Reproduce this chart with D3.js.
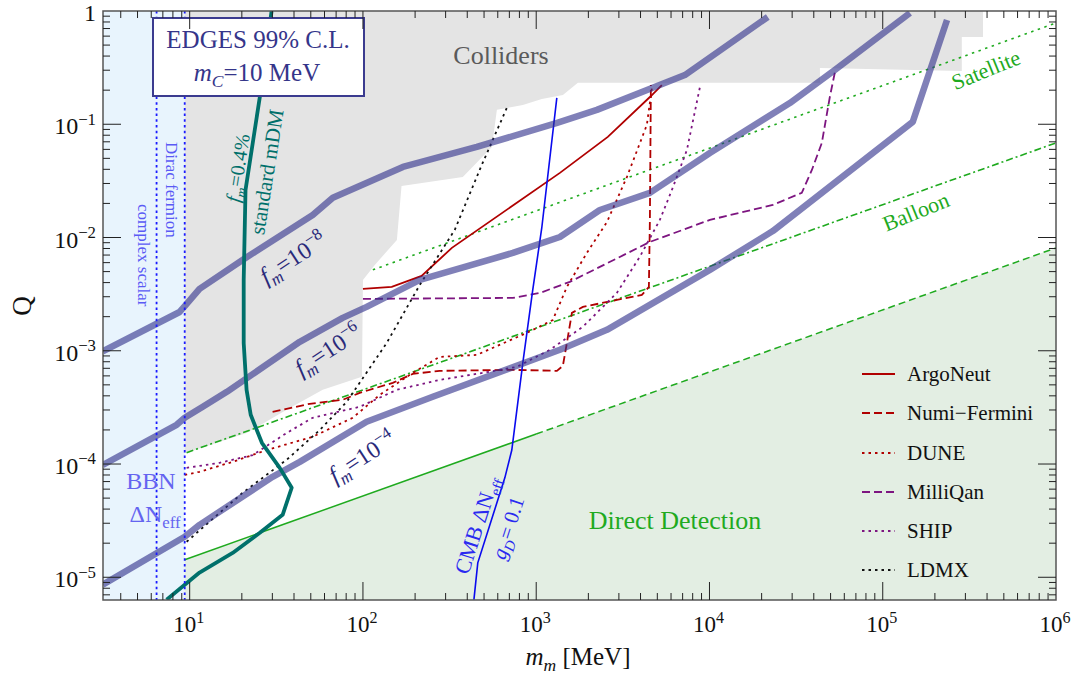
<!DOCTYPE html>
<html lang="en"><head>
<meta charset="UTF-8">
<title>Millicharged DM constraints</title>
<script src="https://d3js.org/d3.v7.min.js"></script>
<style>
  body { margin: 0; background: #fff; }
  text { font-family: "Liberation Serif", "DejaVu Serif", serif; }
</style>
</head>
<body>
<svg id="vis" width="1075" height="681"></svg>
<script>
// ---- data (m in MeV, Q) ----
var xDomain = [3.16, 1e6];
var yDomain = [6.3e-6, 1];
var xTickExp = [1, 2, 3, 4, 5, 6];
var yTickExp = [0, -1, -2, -3, -4, -5];

var bbnEdge = 9.36;
var dottedMasses = [6.44, 9.36];

var colliders = [[9.36,1],[379000,1],[379000,0.589],[286000,0.589],[286000,0.295],[43400,0.314],
  [43400,0.232],[1740,0.232],[1426,0.1815],[1077,0.167],[837,0.148],[593,0.134],[555,0.063],
  [377,0.0343],[167,0.0285],[157,9.5e-3],[117,5.73e-3],[100,4.22e-3],[98.7,5.89e-4],
  [58.6,4.52e-4],[36.3,3.01e-4],[21.3,1.88e-4],[9.6,1.26e-4],[9.36,1.26e-4]];

var directDetection = [[9.36,1.43e-5],[1000,1.84e-4],[1e6,8.1e-3]];
var satellite = [[114,5.18e-3],[1e6,0.784]];
var balloon = [[9.6,1.26e-4],[1e6,0.0684]];

var fm8 = [[3.15,9.9e-4],[8.75,2.2e-3],[9.5,2.54e-3],[11.4,3.52e-3],[21,6.6e-3],[51.3,0.0158],
  [67,0.0224],[170,0.042],[454,0.063],[1320,0.103],[2240,0.134],[7210,0.272],[21700,0.885]];
var fm6 = [[3.15,9.8e-5],[8.41,2.22e-4],[9.36,2.56e-4],[11.9,3.2e-4],[16.4,4.34e-4],[43.2,1.2e-3],
  [76.4,1.95e-3],[105,2.44e-3],[213,4.22e-3],[733,7.31e-3],[1370,0.0101],[2330,0.0175],
  [4530,0.0248],[10050,0.0558],[29100,0.154],[53000,0.302],[143600,0.96]];
var fm4 = [[3.15,8.6e-6],[9.36,2.28e-5],[11.4,2.9e-5],[30.1,7.71e-5],[43.2,1.045e-4],[105,2.36e-4],
  [253,3.92e-4],[1370,1.02e-3],[2560,1.53e-3],[10050,5.18e-3],[23200,0.0114],[149000,0.105],
  [235000,0.833]];

var mdm = [[29.7,1],[25.4,0.174],[21.0,0.0263],[20.5,4.22e-3],[20.5,1.17e-3],[21.3,4.52e-4],
  [22.5,2.72e-4],[26.1,1.54e-4],[33.1,9.25e-5],[38.8,6.17e-5],[34.4,3.56e-5],[25.4,2.47e-5],
  [17.7,1.64e-5],[11.4,1.1e-5],[7.36,6.34e-6]];

var cmb = [[437,6.34e-6],[460,1.34e-5],[659,7.55e-5],[723,1.33e-4],[837,7.82e-4],[955,3.45e-3],
  [1077,0.0122],[1315,0.171]];

var argoneut = [[100,3.52e-3],[146.6,3.66e-3],[218,4.58e-3],[326,8.1e-3],[1370,0.0372],
  [2590,0.0773],[4530,0.174],[5310,0.222]];
var numi = [[30.1,2.89e-4],[49.3,3.4e-4],[76.4,3.69e-4],[95.8,4.25e-4],[148.6,5.21e-4],[194,6.25e-4],
  [277,6.65e-4],[733,6.78e-4],[1316,6.65e-4],[1425,7.36e-4],[1503,1.17e-3],[1607,2.16e-3],
  [1860,2.44e-3],[2920,2.81e-3],[4070,3.11e-3],[4470,3.66e-3],[4530,0.0143],[4590,0.222]];
var dune = [[9.36,8.03e-5],[11.4,8.54e-5],[17.7,1.045e-4],[27.9,1.33e-4],[51.3,1.74e-4],[87.3,2.56e-4],
  [125,4.08e-4],[194,6.38e-4],[277,8.83e-4],[454,9.2e-4],[883,1.44e-3],[1247,1.87e-3],
  [1503,3.66e-3],[1960,7.31e-3],[2560,0.0137],[3340,0.0343],[4350,0.0986],[4660,0.213]];
var milliqan = [[100,2.87e-3],[733,2.93e-3],[1050,3.24e-3],[1563,4.06e-3],[4530,9.14e-3],
  [10050,0.0143],[23200,0.0194],[34100,0.0248],[39000,0.0395],[44500,0.0684],[49500,0.174],[53000,0.29]];
var ship = [[9.6,9.25e-5],[14.9,1.025e-4],[23.1,1.2e-4],[36.3,1.88e-4],[51.3,2.56e-4],[95.8,3.2e-4],
  [157,4.52e-4],[277,5.53e-4],[492,6.38e-4],[773,7.21e-4],[1200,1.02e-3],[1860,1.63e-3],
  [2920,3.24e-3],[3960,6.74e-3],[5170,0.0143],[6070,0.0263],[7410,0.0593],[8810,0.213]];
var ldmx = [[9.6,2.06e-5],[20.2,5.57e-5],[36.3,1.09e-4],[56.4,2.0e-4],[80.6,3.54e-4],[137,1.17e-3],
  [213,3.82e-3],[339,0.0117],[485,0.0437],[676,0.139]];

var legendNames = ["ArgoNeut", "Numi\u2212Fermini", "DUNE", "MilliQan", "SHIP", "LDMX"];

// ---- drawing ----
var svg = d3.select("#vis");
var L = 103, R = 1056, T = 11, B = 600;
var x = d3.scaleLog().domain(xDomain).range([L, R]);
var y = d3.scaleLog().domain(yDomain).range([B, T]);
var line = d3.line().x(function(d){ return x(d[0]); }).y(function(d){ return y(d[1]); });

svg.append("defs").append("clipPath").attr("id", "plot")
  .append("rect").attr("x", L).attr("y", T).attr("width", R - L).attr("height", B - T);
var g = svg.append("g").attr("clip-path", "url(#plot)");

// regions
g.append("rect").attr("x", L).attr("y", T).attr("width", x(bbnEdge) - L).attr("height", B - T)
  .attr("fill", "#e8f4fd");
g.append("path").attr("d", line(colliders) + "Z").attr("fill", "#e4e4e4");
var area = d3.area().x(function(d){ return x(d[0]); }).y0(B).y1(function(d){ return y(d[1]); });
g.append("path").attr("d", area(directDetection)).attr("fill", "#e3eee3");

function drawLine(data, color, w, dash) {
  var p = g.append("path").attr("d", line(data)).attr("fill", "none")
    .attr("stroke", color).attr("stroke-width", w);
  if (dash) p.attr("stroke-dasharray", dash);
  return p;
}

var green = "#1faa1f";
drawLine(directDetection.slice(0, 2), green, 1.5);
drawLine(directDetection.slice(1), green, 1.5, "7,4");
drawLine(satellite, green, 1.6, "2.5,4.5");
drawLine(balloon, green, 1.6, "7,3,2,3");

// experiments
var red = "#b00000", purple = "#7d1580";
var exps = [
  {d: argoneut, c: red, dash: null},
  {d: numi, c: red, dash: "8,4"},
  {d: dune, c: red, dash: "2.5,4"},
  {d: milliqan, c: purple, dash: "8,4"},
  {d: ship, c: purple, dash: "2.5,4"},
  {d: ldmx, c: "#111", dash: "2.5,4"}
];
exps.forEach(function(e){ drawLine(e.d, e.c, 1.8, e.dash); });

// CMB
drawLine(cmb, "#0a0aee", 1.6);

// thick f_m lines
[fm8, fm6, fm4].forEach(function(d){
  drawLine(d, "rgba(50,50,140,0.62)", 6.5).attr("stroke-linejoin", "round");
});

// standard mDM
drawLine(mdm, "#00706b", 3.8).attr("stroke-linejoin", "round");

// dotted BBN lines
dottedMasses.forEach(function(m){
  g.append("line").attr("x1", x(m)).attr("x2", x(m)).attr("y1", T).attr("y2", B)
    .attr("stroke", "#1a1aff").attr("stroke-width", 1.8).attr("stroke-dasharray", "2.5,3.2");
});

// rich text helper
function rich(parent, parts, size) {
  var t = parent.append("text").attr("font-size", size);
  var cur = 0;
  parts.forEach(function(p){
    var s = t.append("tspan").text(p.t);
    var off = p.sup ? -0.4 * size : (p.sub ? 0.25 * size : 0);
    if (off - cur !== 0) s.attr("dy", off - cur);
    cur = off;
    if (p.sup || p.sub) s.attr("font-size", size * 0.7);
    if (p.i) s.attr("font-style", "italic");
  });
  return t;
}
function label(parts, cx, cy, angle, size, color) {
  var gg = svg.append("g").attr("transform", "translate(" + cx + "," + cy + ") rotate(" + angle + ")");
  return rich(gg, parts, size).attr("text-anchor", "middle").attr("y", size * 0.33).attr("fill", color);
}

// labels
label([{t:"Colliders"}], 501, 55, 0, 26, "#5a5a5a");
label([{t:"Direct Detection"}], 675, 520, 0, 26, green);
label([{t:"Satellite"}], 986, 70, -22, 22, green);
label([{t:"Balloon"}], 916, 212, -22, 22, green);
label([{t:"BBN"}], 151, 481, 0, 24, "#6464f0");
label([{t:"\u0394N"},{t:"eff", sub:true}], 155, 514, 0, 24, "#6464f0");
svg.append("text").attr("transform", "translate(166,142) rotate(90)").attr("font-size", 17)
  .attr("fill", "#5a5af5").text("Dirac fermion");
svg.append("text").attr("transform", "translate(138,204) rotate(90)").attr("font-size", 17)
  .attr("fill", "#5a5af5").text("complex scalar");
var teal = "#00706b";
label([{t:"f", i:true},{t:"m", i:true, sub:true},{t:"=0.4%"}], 238, 168, -81, 20, teal);
label([{t:"standard mDM"}], 267, 172, -81, 21, teal);
var navy = "#2a2a7a";
label([{t:"f", i:true},{t:"m", i:true, sub:true},{t:"=10"},{t:"\u22128", sup:true}], 293, 258, -33, 24, navy);
label([{t:"f", i:true},{t:"m", i:true, sub:true},{t:"=10"},{t:"\u22126", sup:true}], 328, 350, -33, 24, navy);
label([{t:"f", i:true},{t:"m", i:true, sub:true},{t:"=10"},{t:"\u22124", sup:true}], 362, 457, -33, 24, navy);
label([{t:"CMB \u0394N"},{t:"eff", sub:true}], 477, 525, -72, 22, "#2a2af0");
label([{t:"g", i:true},{t:"D", i:true, sub:true},{t:"= 0.1"}], 508, 528, -72, 21, "#2a2af0");

// EDGES box
svg.append("rect").attr("x", 153).attr("y", 18).attr("width", 211).attr("height", 78)
  .attr("fill", "#fff").attr("stroke", "#3b3b8f").attr("stroke-width", 2);
rich(svg, [{t:"EDGES 99% C.L."}], 25).attr("x", 258).attr("y", 48).attr("text-anchor", "middle").attr("fill", "#35358a");
rich(svg, [{t:"m", i:true},{t:"C", i:true, sub:true},{t:"=10 MeV"}], 25).attr("x", 257).attr("y", 81)
  .attr("text-anchor", "middle").attr("fill", "#35358a");

// legend
var legY = [374, 413, 453, 492, 531, 570];
exps.forEach(function(e, i){
  var ln = svg.append("line").attr("x1", 862).attr("x2", 895).attr("y1", legY[i]).attr("y2", legY[i])
    .attr("stroke", e.c).attr("stroke-width", 1.8);
  if (e.dash) ln.attr("stroke-dasharray", e.dash);
  svg.append("text").attr("x", 907).attr("y", legY[i] + 7).attr("font-size", 21).attr("fill", "#111")
    .text(legendNames[i]);
});

// frame and ticks
svg.append("rect").attr("x", L).attr("y", T).attr("width", R - L).attr("height", B - T)
  .attr("fill", "none").attr("stroke", "#555").attr("stroke-width", 1.5);
function isMajor(v) { var l = Math.log10(v); return Math.abs(l - Math.round(l)) < 1e-6; }
var tg = svg.append("g").attr("stroke", "#222").attr("stroke-width", 1);
x.ticks().forEach(function(v){
  var px = x(v), len = isMajor(v) ? 18 : 7;
  if (px < L + 1 || px > R - 1) return;
  tg.append("line").attr("x1", px).attr("x2", px).attr("y1", B).attr("y2", B - len);
  tg.append("line").attr("x1", px).attr("x2", px).attr("y1", T).attr("y2", T + len);
});
y.ticks().forEach(function(v){
  var py = y(v), len = isMajor(v) ? 18 : 7;
  if (py < T + 1 || py > B - 1) return;
  tg.append("line").attr("x1", L).attr("x2", L + len).attr("y1", py).attr("y2", py);
  tg.append("line").attr("x1", R).attr("x2", R - len).attr("y1", py).attr("y2", py);
});

// tick labels
xTickExp.forEach(function(k){
  rich(svg, [{t:"10"},{t:String(k), sup:true}], 23).attr("x", x(Math.pow(10, k)) - 1).attr("y", 632)
    .attr("text-anchor", "middle").attr("fill", "#111");
});
yTickExp.forEach(function(k){
  var parts = k === 0 ? [{t:"1"}] : [{t:"10"},{t:"\u2212" + (-k), sup:true}];
  rich(svg, parts, 24).attr("x", 96).attr("y", y(Math.pow(10, k)) + (k === 0 ? 10 : 10))
    .attr("text-anchor", "end").attr("fill", "#111");
});

// axis titles
rich(svg, [{t:"m", i:true},{t:"m", i:true, sub:true},{t:" [MeV]"}], 25).attr("x", 578).attr("y", 665)
  .attr("text-anchor", "middle").attr("fill", "#111");
svg.append("text").attr("transform", "translate(31,306) rotate(-90)").attr("text-anchor", "middle")
  .attr("font-size", 27).attr("fill", "#111").text("Q");
</script>
</body></html>
